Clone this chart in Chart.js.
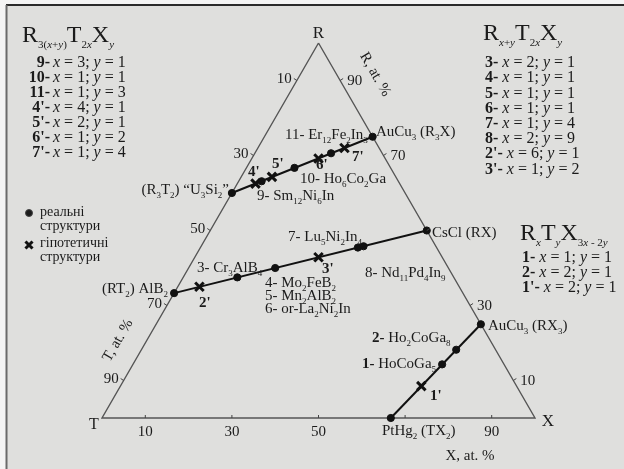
<!DOCTYPE html>
<html>
<head>
<meta charset="utf-8">
<script src="https://cdn.jsdelivr.net/npm/chart.js@4/dist/chart.umd.min.js"></script>
<style>
html,body{margin:0;padding:0;background:#f2f2f2;}
#wrap{width:624px;height:469px;}
</style>
</head>
<body>
<div id="wrap"><canvas id="c" width="624" height="469"></canvas></div>
<script>
// Ternary R–T–X diagram: tie lines, real structures (dots) and hypothetical ones (crosses).

// compositions, at.% [R, T, X]
const vertexR=[100,0,0], vertexT=[0,100,0], vertexX=[0,0,100];
const tie1=[[60,40,0],[75,0,25]];        // R3T2 – R3X
const tie2=[[33.3,66.7,0],[50,0,50]];    // RT2 – RX
const tie3=[[0,33.3,66.7],[25,0,75]];    // TX2 – RX3

const realR=[60,75,63.2,66.7,70.6,33.3,50,37.5,40,45.5,45.8,0,25,14.3,18.2];
const realT=[40,0,31.6,22.2,11.8,66.7,0,50,40,18.2,16.7,33.3,0,14.3,9.1];
const realX=[0,25,5.3,11.1,17.6,0,50,12.5,20,36.4,37.5,66.7,75,71.4,72.7];

const hypoR=[62.5,64.3,69.2,72,35,42.9,8.5];
const hypoT=[33.3,28.6,15.4,8,60,28.6,22];
const hypoX=[4.2,7.1,15.4,20,5,28.6,69.5];

const tickValues=[10,30,50,70,90];
const leftTicks=[10,30,50,70,90];   // T, at.%
const rightTicks=[90,70,30,10];     // R, at.%
const bottomTicks=[10,30,50,90];    // X, at.%

const S3=Math.sqrt(3)/2;
function tern(r,t,x){const s=r+t+x;return {x:(x+r/2)/s*100,y:r/s*100*S3};}
const fromArr=a=>tern(a[0],a[1],a[2]);

const TXT='#1b1b1b', SERIF='"Liberation Serif","DejaVu Serif",serif';

// tiny markup: _{..} subscript, *..* italic, #..# bold
function drawRich(ctx,str,x,y,size,align,subRatio){
  const sr=subRatio||0.62;
  const runs=[];let sub=false,it=false,bd=false,buf='';
  const push=()=>{if(buf){runs.push({t:buf,sub,it,bd});buf='';}};
  for(let i=0;i<str.length;i++){
    const ch=str[i];
    if(ch==='_'&&str[i+1]==='{'){push();sub=true;i++;continue;}
    if(ch==='}'&&sub){push();sub=false;continue;}
    if(ch==='*'){push();it=!it;continue;}
    if(ch==='#'){push();bd=!bd;continue;}
    buf+=ch;
  }
  push();
  const font=r=>(r.it?'italic ':'')+(r.bd?'bold ':'')+Math.round(r.sub?size*sr:size)+'px '+SERIF;
  let w=0;runs.forEach(r=>{ctx.font=font(r);r.w=ctx.measureText(r.t).width;w+=r.w;});
  let cx=align==='right'?x-w:align==='center'?x-w/2:x;
  const base=y+size*0.33;
  ctx.textBaseline='alphabetic';ctx.textAlign='left';
  runs.forEach(r=>{ctx.font=font(r);ctx.fillText(r.t,cx,base+(r.sub?size*0.26:0));cx+=r.w;});
}

const blockLeft=[['9-','*x* = 3; *y* = 1'],['10-','*x* = 1; *y* = 1'],['11-','*x* = 1; *y* = 3'],["4'-",'*x* = 4; *y* = 1'],
  ["5'-",'*x* = 2; *y* = 1'],["6'-",'*x* = 1; *y* = 2'],["7'-",'*x* = 1; *y* = 4']];
const blockRight=['3- *x* = 2; *y* = 1','4- *x* = 1; *y* = 1','5- *x* = 1; *y* = 1','6- *x* = 1; *y* = 1',
  '7- *x* = 1; *y* = 4','8- *x* = 2; *y* = 9',"2'- *x* = 6; *y* = 1","3'- *x* = 1; *y* = 2"];
const blockThird=['1- *x* = 1; *y* = 1','2- *x* = 2; *y* = 1',"1'- *x* = 2; *y* = 1"];

const labels=[
  ['AuCu_{3} (R_{3}X)',376,131,'left'],
  ['11- Er_{12}Fe_{2}In_{3}',285,134,'left'],
  ["#7'#",352,156,'left'],["#6'#",316,164,'left'],["#5'#",272,163,'left'],["#4'#",248,171,'left'],
  ['10- Ho_{6}Co_{2}Ga',300,178,'left'],
  ['9- Sm_{12}Ni_{6}In',257,195,'left'],
  ['(R_{3}T_{2}) \u201CU_{3}Si_{2}\u201D',229,189,'right'],
  ['(RT_{2}) AlB_{2}',168,288,'right'],
  ["#2'#",199,302,'left'],
  ['3- Cr_{3}AlB_{4}',197,267,'left'],
  ['4- Mo_{2}FeB_{2}',265,282,'left'],
  ['5- Mn_{2}AlB_{2}',265,295,'left'],
  ['6- or-La_{2}Ni_{2}In',265,308,'left'],
  ['7- Lu_{5}Ni_{2}In_{4}',288,236,'left'],
  ["#3'#",322,268,'left'],
  ['8- Nd_{11}Pd_{4}In_{9}',365,272,'left'],
  ['CsCl (RX)',432,232,'left'],
  ['AuCu_{3} (RX_{3})',488,325,'left'],
  ['#2-# Ho_{2}CoGa_{8}',372,337,'left'],
  ['#1-# HoCoGa_{5}',362,363,'left'],
  ["#1'#",430,395,'left'],
  ['PtHg_{2} (TX_{2})',382,430,'left']
];

const decor={
  id:'decor',
  beforeDraw(chart){
    const ctx=chart.ctx;ctx.save();
    ctx.fillStyle='#f4f4f4';ctx.fillRect(0,0,624,469);
    ctx.fillStyle='#dfdfdd';ctx.fillRect(7,6,617,463);
    ctx.strokeStyle='#2a2a2a';ctx.lineWidth=2;
    ctx.beginPath();ctx.moveTo(6,5);ctx.lineTo(624,5);ctx.stroke();
    ctx.strokeStyle='#6a6a6a';
    ctx.beginPath();ctx.moveTo(6.5,5);ctx.lineTo(6.5,469);ctx.stroke();
    ctx.restore();
  },
  afterDraw(chart){
    const ctx=chart.ctx, sx=chart.scales.x, sy=chart.scales.y;
    const px=p=>({x:sx.getPixelForValue(p.x),y:sy.getPixelForValue(p.y)});
    ctx.save();ctx.fillStyle=TXT;ctx.strokeStyle='#444';ctx.lineWidth=1;
    // ticks + tick labels
    tickValues.forEach(v=>{
      const l=px(tern(100-v,v,0)), r=px(tern(v,0,100-v)), b=px(tern(0,100-v,v));
      ctx.beginPath();
      ctx.moveTo(l.x,l.y);ctx.lineTo(l.x-3,l.y-2);
      ctx.moveTo(r.x,r.y);ctx.lineTo(r.x+3,r.y-2);
      ctx.moveTo(b.x,b.y);ctx.lineTo(b.x,b.y-3);
      ctx.stroke();
    });
    leftTicks.forEach(v=>{const p=px(tern(100-v,v,0));drawRich(ctx,String(v),p.x-5,p.y-2,15,'right');});
    rightTicks.forEach(v=>{const p=px(tern(v,0,100-v));drawRich(ctx,String(v),p.x+7,p.y,15,'left');});
    bottomTicks.forEach(v=>{const p=px(tern(0,100-v,v));drawRich(ctx,String(v),p.x,p.y+13,15,'center');});
    // vertex labels
    const pR=px(fromArr(vertexR)), pT=px(fromArr(vertexT)), pX=px(fromArr(vertexX));
    drawRich(ctx,'R',pR.x,pR.y-11,17,'center');
    drawRich(ctx,'T',pT.x-8,pT.y+6,16,'center');
    drawRich(ctx,'X',pX.x+13,pX.y+2,17,'center');
    // axis titles
    const rot=(txt,x,y,a)=>{ctx.save();ctx.translate(x,y);ctx.rotate(a);drawRich(ctx,txt,0,0,15,'center');ctx.restore();};
    rot('R, at. %',376,74,Math.PI/3);
    rot('T, at. %',117,340,-Math.PI/3);
    drawRich(ctx,'X, at. %',470,455,15,'center');
    // compound labels
    labels.forEach(l=>drawRich(ctx,l[0],l[1],l[2],15,l[3]));
    // formula blocks
    drawRich(ctx,'R_{3(*x*+*y*)}T_{2*x*}X_{*y*}',22,34,24,'left',0.45);
    blockLeft.forEach((r,i)=>{const y=62+i*15;drawRich(ctx,'#'+r[0]+'#',50,y,16,'right');drawRich(ctx,r[1],53,y,16,'left');});
    drawRich(ctx,'R_{*x*+*y*}T_{2*x*}X_{*y*}',483,32,24,'left',0.45);
    blockRight.forEach((r,i)=>{const t=r.split(' ');drawRich(ctx,'#'+t[0]+'# '+t.slice(1).join(' '),485,62+i*15.2,16,'left');});
    drawRich(ctx,'R_{*x*}T_{*y*}X_{3*x* - 2*y*}',520,232,24,'left',0.45);
    blockThird.forEach((r,i)=>{const t=r.split(' ');drawRich(ctx,'#'+t[0]+'# '+t.slice(1).join(' '),522,257+i*15,16,'left');});
    // legend
    Chart.helpers.drawPoint(ctx,{pointStyle:'circle',radius:3.5,borderWidth:1},29,213);
    ctx.fillStyle=TXT;
    drawRich(ctx,'реальні',40,211,14,'left');
    drawRich(ctx,'структури',40,225,14,'left');
    ctx.lineWidth=3;ctx.strokeStyle='#111';
    Chart.helpers.drawPoint(ctx,{pointStyle:'crossRot',radius:5,borderWidth:3},29,245);
    drawRich(ctx,'гіпотетичні',40,242,14,'left');
    drawRich(ctx,'структури',40,256,14,'left');
    ctx.restore();
  }
};

const triangle=[vertexR,vertexT,vertexX,vertexR].map(fromArr);
const lineStyle={showLine:true,pointRadius:0,borderColor:'#111',borderWidth:2,clip:false,order:1};

new Chart(document.getElementById('c'),{
  type:'scatter',
  data:{datasets:[
    {data:realR.map((r,i)=>tern(r,realT[i],realX[i])),pointStyle:'circle',pointRadius:3.6,
      backgroundColor:'#111',borderColor:'#111',borderWidth:1,clip:false,order:0},
    {data:hypoR.map((r,i)=>tern(r,hypoT[i],hypoX[i])),pointStyle:'crossRot',pointRadius:6,
      borderColor:'#111',borderWidth:3,clip:false,order:0},
    Object.assign({data:tie1.map(fromArr)},lineStyle),
    Object.assign({data:tie2.map(fromArr)},lineStyle),
    Object.assign({data:tie3.map(fromArr)},lineStyle),
    {data:triangle,showLine:true,pointRadius:0,borderColor:'#555',borderWidth:1.4,clip:false,order:2}
  ]},
  options:{
    responsive:false,animation:false,devicePixelRatio:1,
    layout:{padding:{left:102,right:89,top:43,bottom:51}},
    plugins:{legend:{display:false},tooltip:{enabled:false}},
    scales:{
      x:{type:'linear',display:false,min:0,max:100},
      y:{type:'linear',display:false,min:0,max:100*S3}
    }
  },
  plugins:[decor]
});
</script>
</body>
</html>
